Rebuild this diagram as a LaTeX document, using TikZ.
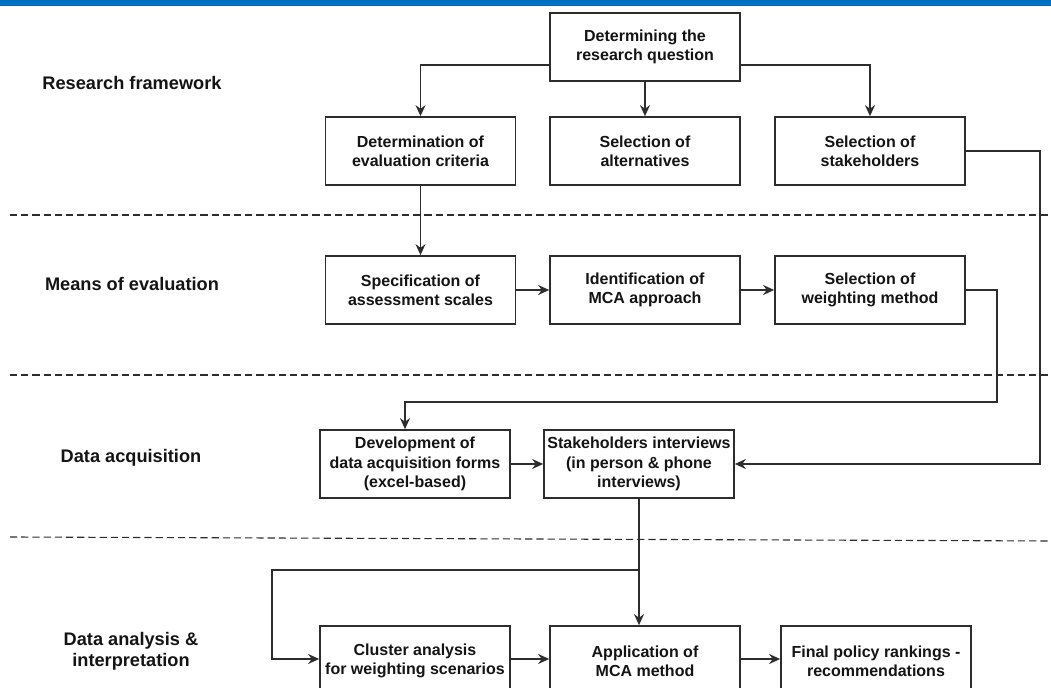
\documentclass[tikz,border=0pt]{standalone}
\usepackage{fontspec}
\setmainfont{Liberation Sans}
\usetikzlibrary{arrows.meta,calc}
\definecolor{topblue}{RGB}{0,112,192}
\definecolor{boxgray}{RGB}{45,45,45}
\definecolor{inkgray}{RGB}{20,20,20}
\begin{document}
\begin{tikzpicture}[x=0.5pt,y=-0.5pt,
  stepbox/.style={draw=boxgray, line width=0.85pt, fill=white,
    minimum width=95pt, minimum height=34pt, inner sep=0pt,
    align=center, text=inkgray,
    font=\fontsize{8}{9.7}\selectfont\bfseries},
  phase/.style={align=center, text=inkgray,
    font=\fontsize{9.1}{10.5}\selectfont\bfseries},
  conn/.style={draw=boxgray, line width=0.72pt},
  arr/.style={conn, -{Stealth[length=5.5pt,width=5pt,inset=1.8pt]}},
  sep/.style={draw=boxgray, line width=0.55pt, dash pattern=on 3.6pt off 2pt}]

\useasboundingbox (0,0) rectangle (1051,688);
\clip (0,0) rectangle (1051,688);

% header bar
\fill[topblue] (0,0) rectangle (1051,6);

% phase separators
\draw[sep] (10,215) -- (1051,215);
\draw[sep] (10,375) -- (1051,375);
\draw[sep] (10,537) -- (1051,541);

% phase labels
\node[phase] (p1) at (132,83) {Research framework};
\node[phase] (p2) at (132,284) {Means of evaluation};
\node[phase] (p3) at (131,458) {Data acquisition};
\node[phase] (p4) at (131,651) {Data analysis \&\\interpretation};

% research framework
\node[stepbox] (q)    at (645,47)    {Determining the\\research question};
\node[stepbox] (crit) at (420.5,151) {Determination of\\evaluation criteria};
\node[stepbox] (alt)  at (645,151)   {Selection of\\alternatives};
\node[stepbox] (stk)  at (870,151)   {Selection of\\stakeholders};

% means of evaluation
\node[stepbox] (scal) at (420.5,290) {Specification of\\assessment scales};
\node[stepbox] (mca)  at (645,290)   {Identification of\\MCA approach};
\node[stepbox] (wgt)  at (870,290)   {Selection of\\weighting method};

% data acquisition
\node[stepbox] (form) at (415,464) {Development of\\data acquisition forms\\(excel-based)};
\node[stepbox] (intv) at (639,464) {Stakeholders interviews\\(in person \& phone\\interviews)};

% data analysis & interpretation
\node[stepbox, minimum height=35pt] (clus) at (415,661) {Cluster analysis\\for weighting scenarios};
\node[stepbox, minimum height=35pt] (app)  at (645,661) {Application of\\MCA method};
\node[stepbox, minimum height=35pt] (fin)  at (876,661) {Final policy rankings -\\recommendations};

% routing points
\coordinate (wr) at (997,402);
\coordinate (sr) at (1040,464);
\coordinate (br) at (639,570);
\coordinate (bl) at (272,570);

% connectors
\draw[arr] ([yshift=-9pt]q.west) -| (crit.north);
\draw[arr] (q.south) -- (alt.north);
\draw[arr] ([yshift=-9pt]q.east) -| (stk.north);
\draw[arr] (crit.south) -- (scal.north);
\draw[arr] (scal.east) -- (mca.west);
\draw[arr] (mca.east) -- (wgt.west);
\draw[arr] (wgt.east) -| (wr) -| ([xshift=-5pt]form.north);
\draw[arr] (stk.east) -| (sr) -- (intv.east);
\draw[arr] (form.east) -- (intv.west);
\draw[arr] (intv.south) -- (intv.south |- app.north);
\draw[arr] (br) -- (bl) |- ([yshift=1pt]clus.west);
\draw[arr] ([yshift=1pt]clus.east) -- ([yshift=1pt]app.west);
\draw[arr] ([yshift=1pt]app.east) -- ([yshift=1pt]fin.west);
\end{tikzpicture}
\end{document}
